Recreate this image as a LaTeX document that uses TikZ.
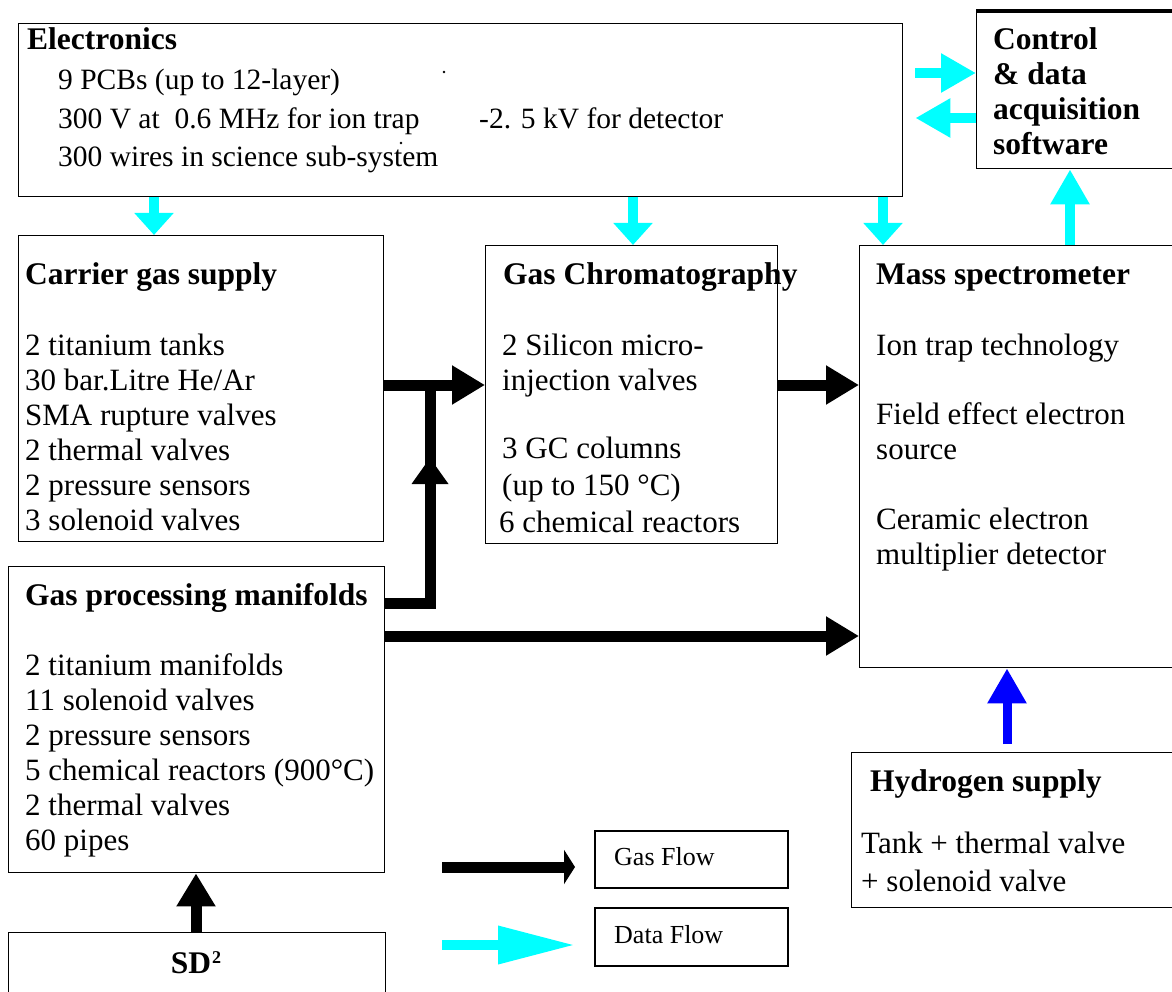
\documentclass[tikz,border=0pt]{standalone}
\usepackage{fontspec}
\setmainfont{Liberation Serif}
\usetikzlibrary{arrows.meta}
\definecolor{dataflow}{RGB}{0,255,255}
\definecolor{hydflow}{RGB}{0,0,255}

% one text line per node, first baseline at (#3,#4), next ones #5 lower
\newcommand\textlines[6][body]{%
  \foreach \t [count=\i] in {#6}{%
    \node[#1] (#2-\i) at (#3, {#4+#5*(\i-1)}) {\t};}}

\begin{document}
\begin{tikzpicture}[x=1pt,y=-1pt,
  box/.style={draw, line width=1.4pt, inner sep=0pt, anchor=north west},
  body/.style={inner sep=0pt, anchor=base west, font=\fontsize{31}{35}\selectfont},
  elecbody/.style={inner sep=0pt, anchor=base west, font=\fontsize{29.5}{35}\selectfont},
  title/.style={inner sep=0pt, anchor=base west, font=\fontsize{31.5}{35}\selectfont\bfseries},
  legendtext/.style={inner sep=0pt, anchor=base west, font=\fontsize{26}{30}\selectfont},
  data/.style={draw=dataflow, line width=10pt, -{Triangle[length=22pt,width=38pt]}},
  databig/.style={draw=dataflow, line width=10pt, -{Triangle[length=35pt,width=37pt]}},
  gas/.style={draw=black, line width=11pt, -{Triangle[length=33pt,width=37pt]}},
  gasline/.style={draw=black, line width=11pt},
  hyd/.style={draw=hydflow, line width=9pt, -{Triangle[length=35pt,width=37pt]}}]

\useasboundingbox (0,0) rectangle (1172,992);
\clip (0,0) rectangle (1172,992);

% blocks
\node[box, minimum width=884pt, minimum height=173pt] (elec) at (18,23) {};
\node[box, minimum width=220pt, minimum height=157pt] (ctl) at (976,11) {};
\draw[line width=3.5pt] (ctl.north west) -- (ctl.north east);
\node[box, minimum width=365pt, minimum height=306pt] (cgs) at (18,235) {};
\node[box, minimum width=292pt, minimum height=298pt] (gc) at (485,245) {};
\node[box, minimum width=330pt, minimum height=422pt] (ms) at (859,245) {};
\node[box, minimum width=376pt, minimum height=306pt] (gpm) at (8,566) {};
\node[box, minimum width=377pt, minimum height=80pt] (sd) at (8,932) {};
\node[box, minimum width=340pt, minimum height=155pt] (h2) at (851,752) {};
\node[box, line width=1.8pt, minimum width=193pt, minimum height=57pt] (gflow) at (594,830) {};
\node[box, line width=1.8pt, minimum width=193pt, minimum height=58pt] (dflow) at (594,907) {};

% texts
\node[title] (elec-t) at (27,50) {Electronics};
\textlines[elecbody]{elec}{58}{90}{38.5}{9 PCBs (up to 12-layer),300 V at\ \ 0.6 MHz for ion trap,300 wires in science sub-system}
\node[elecbody] (elec-hv) at (479,128.5) {-2. 5 kV for detector};
\fill (444,72) circle (1.3pt);
\fill (401,143) circle (1.3pt);

\textlines[title]{ctl}{993}{50}{34.7}{Control,\& data,acquisition,software}

\node[title] (cgs-t) at (25,284) {Carrier gas supply};
\textlines{cgs}{25}{355}{35}{2 titanium tanks,30 bar.Litre He/Ar,SMA rupture valves,2 thermal valves,2 pressure sensors,3 solenoid valves}

\node[title] (gc-t) at (503,284) {Gas Chromatography};
\textlines{gc}{502}{355}{35}{2 Silicon micro-,injection valves}
\textlines{gcb}{502}{458}{37}{3 GC columns,(up to 150 °C)}
\node[body] (gc-r) at (499,532) {6 chemical reactors};

\node[title] (ms-t) at (876,284) {Mass spectrometer};
\node[body] (ms-1) at (876,355) {Ion trap technology};
\textlines{msf}{876}{424}{35}{Field effect electron,source}
\textlines{msc}{876}{529}{35}{Ceramic electron,multiplier detector}

\node[title] (gpm-t) at (25,605) {Gas processing manifolds};
\textlines{gpm}{25}{675}{35}{2 titanium manifolds,11 solenoid valves,2 pressure sensors,5 chemical reactors (900°C),2 thermal valves,60 pipes}

\node[title, anchor=base] (sd-t) at (196,973) {SD\kern1pt\raisebox{10pt}{\fontsize{18}{18}\selectfont 2}};

\node[title] (h2-t) at (870,791) {Hydrogen supply};
\textlines{h2}{861}{853}{38.5}{Tank + thermal valve,+ solenoid valve}

\node[legendtext] (gflow-t) at (614,865) {Gas Flow};
\node[legendtext] (dflow-t) at (614,943) {Data Flow};

% columns and rows of the connectors
\coordinate (cA) at (154,0);
\coordinate (cB) at (633,0);
\coordinate (cC) at (883,0);
\coordinate (cD) at (1070,0);
\coordinate (cE) at (1007,0);
\coordinate (cJ) at (430,0);
\coordinate (cS) at (196,0);
\coordinate (rT1) at (0,73);
\coordinate (rT2) at (0,118);
\coordinate (rG) at (0,385);
\coordinate (rM) at (0,603);
\coordinate (rL) at (0,636);
\coordinate (lg1) at (442,867);
\coordinate (lg2) at (442,945);

% data flow
\draw[data] (elec.south -| cA) -- (cgs.north -| cA);
\draw[data] (elec.south -| cB) -- (gc.north -| cB);
\draw[data] (elec.south -| cC) -- (ms.north -| cC);
\draw[databig] (ms.north -| cD) -- (ctl.south -| cD);
\draw[databig, shorten <=12pt] (elec.east |- rT1) -- (ctl.west |- rT1);
\draw[databig, shorten >=12pt] (ctl.west |- rT2) -- (elec.east |- rT2);

% gas flow
\draw[gas] (cgs.east |- rG) -- (gc.west |- rG);
\draw[gas] (gc.east |- rG) -- (ms.west |- rG);
\draw[gasline] (gpm.east |- rM) -| (cJ |- rG);
\fill ([xshift=-18.5pt]cJ |- 0,484) -- ([xshift=18.5pt]cJ |- 0,484) -- (cJ |- 0,458) -- cycle;
\draw[gas] (gpm.east |- rL) -- (ms.west |- rL);
\draw[gas] (sd.north -| cS) -- (gpm.south -| cS);
\draw[hyd, shorten <=8pt] (h2.north -| cE) -- (ms.south -| cE);

% legend
\draw[gasline, -{Triangle[length=11pt,width=34pt]}, shorten >=19pt] (lg1) -- (gflow.west |- lg1);
\draw[draw=dataflow, line width=10pt, -{Triangle[length=77pt,width=36pt]}, shorten >=19pt] (lg2) -- (dflow.west |- lg2);
\end{tikzpicture}
\end{document}
